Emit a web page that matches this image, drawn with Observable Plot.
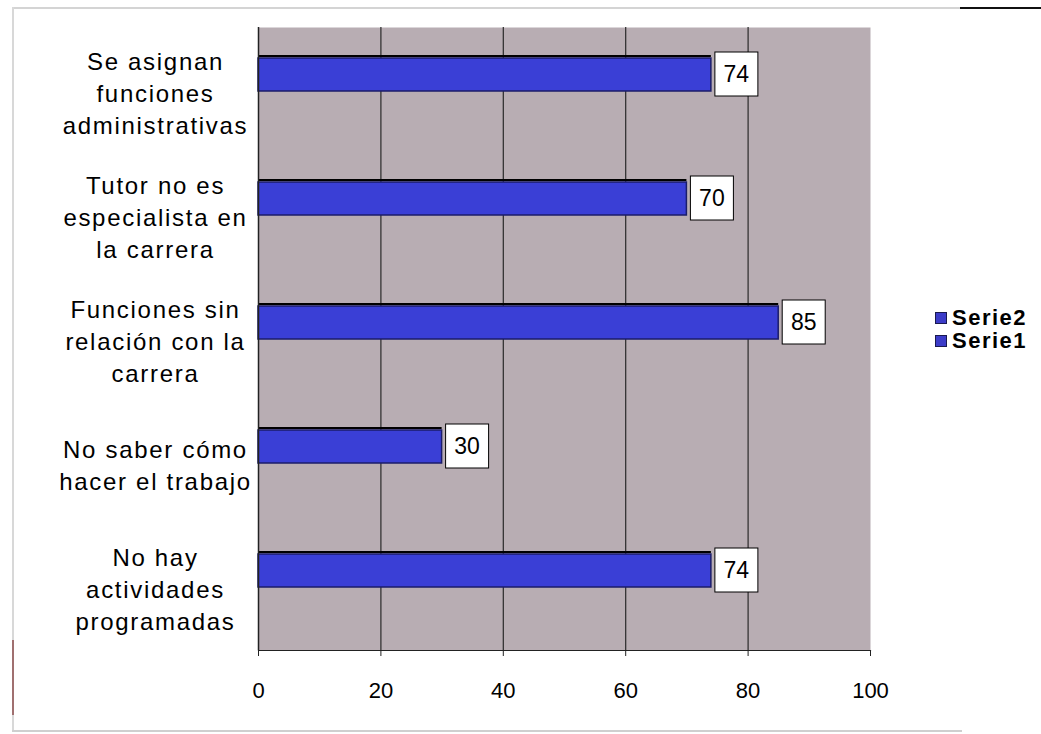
<!DOCTYPE html>
<html>
<head>
<meta charset="utf-8">
<script src="https://cdn.jsdelivr.net/npm/d3@7"></script>
<script src="https://cdn.jsdelivr.net/npm/@observablehq/plot@0.6"></script>
<style>
  html, body { margin: 0; padding: 0; background: #fff; }
  #wrap { position: relative; width: 1041px; height: 734px; overflow: hidden; font-family: "Liberation Sans", Arial, sans-serif; }
  .frame-top { position: absolute; left: 12px; top: 7px; width: 950px; height: 2px; background: #d4d4d4; }
  .frame-top2 { position: absolute; left: 960px; top: 7px; width: 81px; height: 2px; background: #111; }
  .frame-left { position: absolute; left: 12px; top: 7px; width: 2px; height: 724px; background: #d8d8d8; }
  .frame-left2 { position: absolute; left: 12px; top: 640px; width: 2px; height: 75px; background: #a07070; }
  .frame-bottom { position: absolute; left: 12px; top: 730px; width: 950px; height: 2px; background: #cfcfcf; }
  .legend { position: absolute; left: 935px; top: 306px; font-weight: bold; font-size: 22px; line-height: 23px; letter-spacing: 1.5px; color: #000; white-space: nowrap; }
  .legend div { display: flex; align-items: center; height: 23px; }
  .legend span.sw { display: inline-block; width: 10px; height: 10px; background: #3c3cc8; border: 1.5px solid #1a1a50; margin-right: 5px; }
  g[aria-label="y-axis tick label"] { letter-spacing: 1.7px; }
</style>
</head>
<body>
<div id="wrap">
  <div class="frame-top"></div>
  <div class="frame-top2"></div>
  <div class="frame-left"></div>
  <div class="frame-left2"></div>
  <div class="frame-bottom"></div>
  <div id="chart"></div>
  <div class="legend" id="legend"></div>
</div>
<script>
const categories = [
  "Se asignan\nfunciones\nadministrativas",
  "Tutor no es\nespecialista en\nla carrera",
  "Funciones sin\nrelación con la\ncarrera",
  "No saber cómo\nhacer el trabajo",
  "No hay\nactividades\nprogramadas"
];
const serie2 = [74, 70, 85, 30, 74];
const serieNames = ["Serie2", "Serie1"];
const xTicks = [0, 20, 40, 60, 80, 100];

const data = categories.map((c, i) => ({category: c, value: serie2[i]}));

const bg = "#b8adb3";
const barFill = "#3a3fd6";
const barStroke = "#1b1d6a";

const chart = Plot.plot({
  width: 1041,
  height: 734,
  marginLeft: 258,
  marginRight: 171,
  marginTop: 27,
  marginBottom: 84,
  style: {fontFamily: "'Liberation Sans', Arial, sans-serif", fontSize: "22px", background: "transparent", overflow: "visible"},
  x: {domain: [0, 100], ticks: xTicks, label: null},
  y: {domain: categories, padding: 0, paddingInner: 0, paddingOuter: 0, label: null},
  marks: [
    Plot.frame({fill: bg, stroke: null}),
    Plot.ruleX(xTicks.filter(t => t > 0 && t < 100), {stroke: "#2a2a2a", strokeWidth: 1.2}),
    Plot.barX(data, {x: "value", y: "category", fill: "#000", insetTop: 26, insetBottom: 96}),
    Plot.barX(data, {x: "value", y: "category", fill: barFill, stroke: barStroke, strokeWidth: 1.5, insetTop: 29, insetBottom: 62}),
    Plot.rectX(data, {x1: "value", x2: "value", y: "category", fill: "#fff", stroke: "#000", strokeWidth: 1, insetLeft: 4, insetRight: -47, insetTop: 23, insetBottom: 57}),
    Plot.text(data, {x: "value", y: "category", text: d => String(d.value), dx: 25, dy: -17, fontSize: 23, fill: "#000"}),
    Plot.ruleX([0], {stroke: "#222", strokeWidth: 1.5}),
    Plot.frame({anchor: "bottom", stroke: "#222", strokeWidth: 1.2}),
    Plot.axisX({ticks: xTicks, tickSize: 6, tickPadding: 26, fontSize: 22, fill: "#000", stroke: "#222", label: null}),
    Plot.axisY({tickSize: 0, tickPadding: 103, textAnchor: "middle", lineHeight: 1.33, fontSize: 24, fill: "#000", tickFormat: d => d, label: null})
  ]
});
document.getElementById("chart").appendChild(chart);

const leg = document.getElementById("legend");
serieNames.forEach(n => {
  const row = document.createElement("div");
  row.innerHTML = `<span class="sw"></span>${n}`;
  leg.appendChild(row);
});
</script>
</body>
</html>
